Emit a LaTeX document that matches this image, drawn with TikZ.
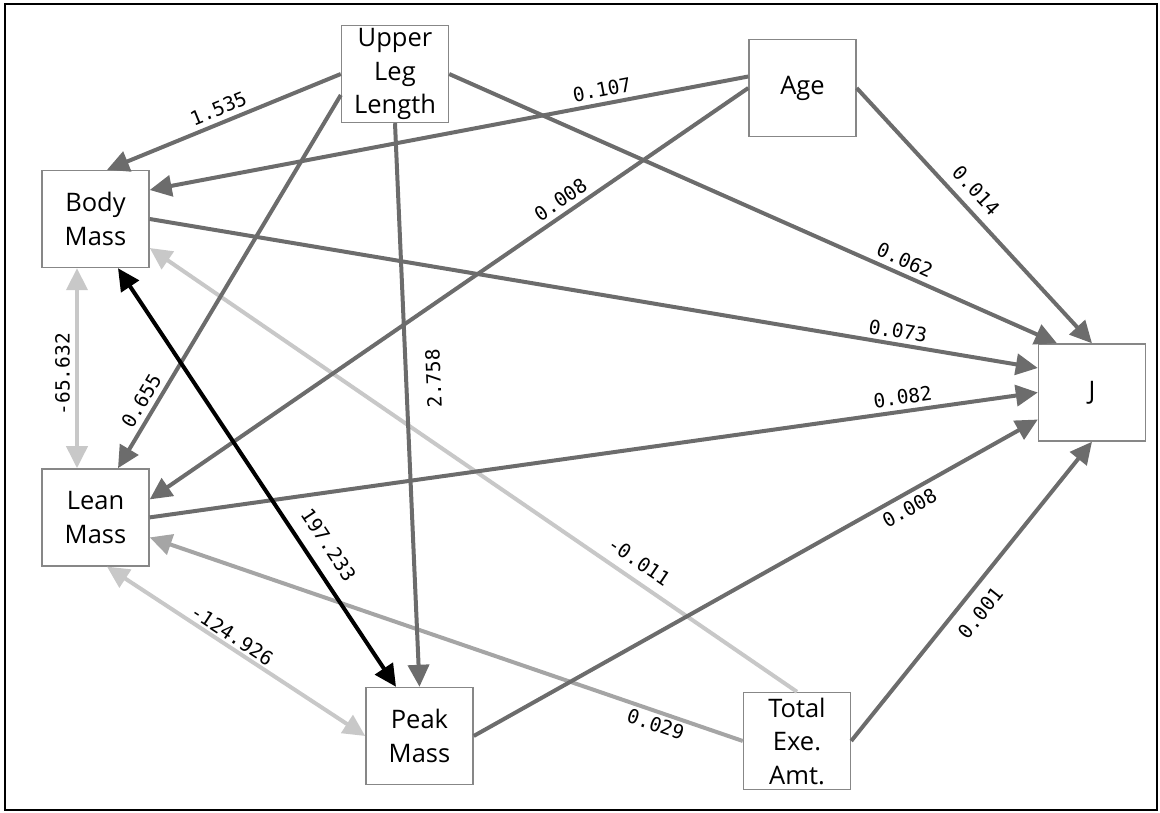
\documentclass[tikz,border=0pt]{standalone}
\usepackage{fontspec}
\setmainfont{Open Sans}
\newfontfamily\coeffont{DejaVu Sans Mono}
\usetikzlibrary{
    arrows.meta,
    positioning,
    calc
}
\definecolor{darkpath}{RGB}{108,108,108}
\definecolor{midpath}{RGB}{165,165,165}
\definecolor{lightpath}{RGB}{200,200,200}
\definecolor{boxgray}{RGB}{135,135,135}
\tikzstyle{var} = [
    rectangle,
    draw=boxgray,
    line width=1.4pt,
    fill=white,
    minimum width=107pt,
    minimum height=97pt,
    inner sep=0pt,
    align=center,
    font=\fontsize{25.5}{33.5}\selectfont
]
\tikzstyle{effect} = [
    -{Triangle[length=22pt,width=21pt]},
    line width=4pt,
    draw=darkpath
]
\tikzstyle{covary} = [
    {Triangle[length=22pt,width=21pt]}-{Triangle[length=22pt,width=21pt]},
    line width=4pt
]
\tikzstyle{coef} = [
    font=\coeffont\fontsize{19.5}{19.5}\selectfont,
    inner sep=2pt,
    outer sep=5pt,
    text=black
]

\begin{document}
\begin{tikzpicture}[x=1pt, y=-1pt]
        \useasboundingbox (0,0) rectangle (1160,813);
        \draw[line width=2.8pt] (5,4) rectangle (1157,810);

        % Variables
        \node[var] (ull) at (395,74) {Upper\\Leg\\Length};
        \node[var] (age) at (802.5,88) {Age};
        \node[var] (body) at (95.5,219) {Body\\Mass};
        \node[var, below=200pt of body] (lean) {Lean\\Mass};
        \node[var] (peak) at (419.5,736) {Peak\\Mass};
        \node[var] (total) at (797,741) {Total\\Exe.\\Amt.};
        \node[var] (j) at (1092,392.5) {J};

        % Covariances and weak paths
        \draw[covary, draw=lightpath] ($(body.south)+(-18.5,0)$) -- ($(lean.north)+(-18.5,0)$)
            node[coef, pos=.53, rotate=90, anchor=south] {-65.632};
        \draw[covary, draw=lightpath] ($(lean.south)+(11.5,0)$) -- (peak.west)
            node[coef, pos=.46, sloped, anchor=south, outer sep=2pt] {-124.926};
        \draw[effect, draw=lightpath] (total.north) -- ($(body.east)+(0,29)$)
            node[coef, pos=.26, sloped, anchor=south, outer sep=9pt] {-0.011};
        \draw[effect, draw=midpath] (total.west) -- ($(lean.east)+(0,20)$)
            node[coef, pos=.14, sloped, anchor=north, outer sep=3pt] {0.029};

        % Paths
        \draw[effect] (ull.west) -- ($(body.north)+(11.5,0)$)
            node[coef, pos=.5, sloped, anchor=south] {1.535};
        \draw[effect] ($(age.west)+(0,-11.5)$) -- ($(body.east)+(0,-29)$)
            node[coef, pos=.24, sloped, anchor=south] {0.107};
        \draw[effect] ($(ull.west)+(0,21)$) -- ($(lean.north)+(22.5,0)$)
            node[coef, pos=.84, sloped, anchor=south] {0.655};
        \draw[effect] (age.west) -- ($(lean.east)+(0,-18)$)
            node[coef, pos=.30, sloped, anchor=south] {0.008};
        \draw[effect] (ull.south) -- (peak.north)
            node[coef, pos=.455, rotate=92.5, anchor=north, outer sep=18pt] {2.758};
        \draw[effect] (ull.east) -- ($(j.north)+(-35,0)$)
            node[coef, pos=.74, sloped, anchor=south] {0.062};
        \draw[effect] (age.east) -- (j.north)
            node[coef, pos=.45, sloped, anchor=south, outer sep=9pt] {0.014};
        \draw[effect] (body.east) -- ($(j.west)+(0,-24.5)$)
            node[coef, pos=.84, sloped, anchor=south, outer sep=4pt] {0.073};
        \draw[effect] (lean.east) -- (j.west)
            node[coef, pos=.85, sloped, anchor=south] {0.082};
        \draw[effect] (peak.east) -- ($(j.west)+(0,27)$)
            node[coef, pos=.76, sloped, anchor=north] {0.008};
        \draw[effect] (total.east) -- (j.south)
            node[coef, pos=.47, sloped, anchor=north, outer sep=11pt] {0.001};

        % Strong covariance
        \draw[covary, draw=black] ($(body.south)+(22.5,0)$) -- ($(peak.north)+(-23.5,0)$)
            node[coef, pos=.69, sloped, anchor=south, outer sep=13pt] {197.233};
    \end{tikzpicture}
\end{document}
